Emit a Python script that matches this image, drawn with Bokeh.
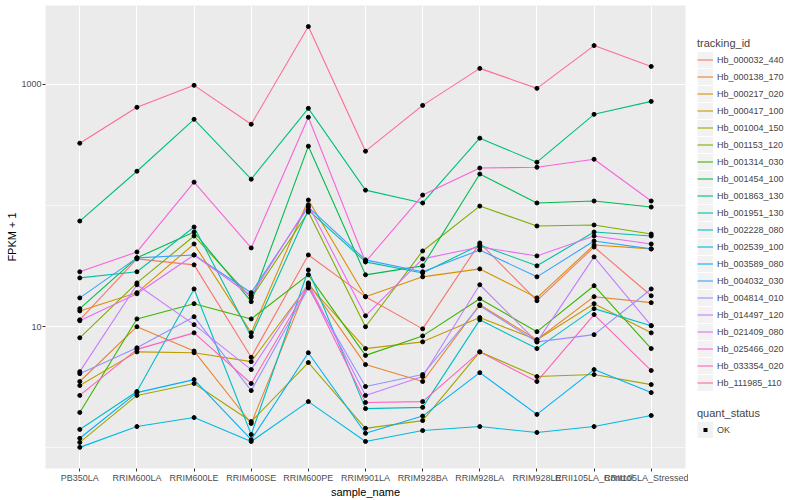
from bokeh.plotting import figure
from bokeh.layouts import row
from bokeh.models import FactorRange, Range1d, FixedTicker, BasicTickFormatter, Legend, LegendItem
from bokeh.embed import file_html
from bokeh.resources import INLINE

samples = ["PB350LA", "RRIM600LA", "RRIM600LE", "RRIM600SE", "RRIM600PE", "RRIM901LA",
           "RRIM928BA", "RRIM928LA", "RRIM928LE", "RRII105LA_Control", "RRII105LA_Stressed"]

tracking_ids = ["Hb_000032_440", "Hb_000138_170", "Hb_000217_020", "Hb_000417_100",
                "Hb_001004_150", "Hb_001153_120", "Hb_001314_030", "Hb_001454_100",
                "Hb_001863_130", "Hb_001951_130", "Hb_002228_080", "Hb_002539_100",
                "Hb_003589_080", "Hb_004032_030", "Hb_004814_010", "Hb_014497_120",
                "Hb_021409_080", "Hb_025466_020", "Hb_033354_020", "Hb_111985_110"]

quant_status = ["OK"]

# FPKM + 1 per sample (same order as samples)
hb_000032_440 = [11.4, 36.3, 32.4, 5.6, 39.1, 17.7, 9.6, 49.1, 16.4, 45.5, 18.0]
hb_000138_170 = [3.53, 10.0, 6.3, 1.59, 23.0, 4.87, 3.53, 15.2, 7.8, 17.7, 15.8]
hb_000217_020 = [13.5, 19.1, 48.2, 8.9, 111, 17.7, 25.8, 30.0, 17.3, 47.3, 43.9]
hb_000417_100 = [3.27, 6.2, 6.1, 5.15, 22.2, 6.6, 7.5, 11.9, 7.8, 15.5, 8.9]
hb_001004_150 = [1.11, 2.71, 3.40, 1.65, 5.06, 1.45, 1.68, 6.2, 3.88, 4.03, 3.33]
hb_001153_120 = [8.1, 23.0, 56.1, 17.3, 88.4, 10.0, 42.2, 99.0, 67.8, 69.1, 58.2]
hb_001314_030 = [1.96, 11.6, 15.5, 11.6, 26.8, 5.8, 8.4, 17.0, 9.1, 21.8, 6.6]
hb_001454_100 = [14.1, 37.0, 60.5, 16.1, 309, 26.8, 31.8, 182, 105, 109, 97.2]
hb_001863_130 = [74.5, 192, 515, 165, 634, 134, 105, 360, 228, 566, 724]
hb_001951_130 = [25.3, 28.4, 66.5, 8.3, 91.8, 34.3, 27.8, 47.3, 31.8, 60.5, 56.1]
hb_002228_080 = [1.42, 2.92, 20.5, 1.29, 29.4, 2.11, 2.16, 11.4, 6.6, 14.1, 10.2]
hb_002539_100 = [1.01, 1.50, 1.78, 1.13, 2.41, 1.13, 1.39, 1.50, 1.34, 1.50, 1.85]
hb_003589_080 = [1.20, 2.86, 3.66, 1.17, 6.1, 1.32, 1.83, 4.18, 1.89, 4.43, 2.86]
hb_004032_030 = [17.3, 37.0, 39.1, 19.1, 97.2, 35.6, 28.4, 43.0, 25.8, 51.0, 43.9]
hb_004814_010 = [4.10, 6.7, 12.1, 2.97, 20.9, 3.21, 4.03, 14.9, 7.5, 8.6, 20.5]
hb_014497_120 = [4.26, 22.2, 10.4, 4.43, 22.6, 2.71, 3.88, 22.2, 7.5, 37.7, 10.2]
hb_021409_080 = [11.2, 18.7, 39.1, 18.0, 101, 12.3, 36.3, 45.5, 38.4, 56.1, 48.2]
hb_025466_020 = [28.4, 41.4, 156, 44.7, 535, 34.3, 122, 204, 207, 241, 109]
hb_033354_020 = [2.71, 6.5, 8.9, 3.40, 21.8, 2.37, 2.41, 6.2, 3.53, 12.6, 4.35]
hb_111985_110 = [327, 647, 982, 469, 3000, 281, 671, 1355, 927, 2090, 1406]

series = [hb_000032_440, hb_000138_170, hb_000217_020, hb_000417_100, hb_001004_150,
          hb_001153_120, hb_001314_030, hb_001454_100, hb_001863_130, hb_001951_130,
          hb_002228_080, hb_002539_100, hb_003589_080, hb_004032_030, hb_004814_010,
          hb_014497_120, hb_021409_080, hb_025466_020, hb_033354_020, hb_111985_110]

palette = ["#F8766D", "#EA8331", "#D89000", "#C09B00", "#A3A500", "#7CAE00", "#39B600",
           "#00BB4E", "#00BF7D", "#00C1A3", "#00BFC4", "#00BAE0", "#00B0F6", "#35A2FF",
           "#9590FF", "#C77CFF", "#E76BF3", "#FA62DB", "#FF62BC", "#FF6C91"]

FONT = "Liberation Sans"

p = figure(width=688, height=500,
           x_range=FactorRange(factors=samples, range_padding=0.1, range_padding_units="absolute"),
           y_range=Range1d(0.676, 4477), y_axis_type="log",
           output_backend="svg", toolbar_location=None,
           min_border_left=45, min_border_right=3, min_border_top=5, min_border_bottom=10)

p.background_fill_color = "#EBEBEB"
p.border_fill_color = "white"
p.outline_line_color = None

p.xgrid.grid_line_color = "white"
p.xgrid.grid_line_width = 1.1
p.ygrid.ticker = FixedTicker(ticks=[10, 1000], minor_ticks=[1, 100])
p.ygrid.grid_line_color = "white"
p.ygrid.grid_line_width = 1.1
p.ygrid.minor_grid_line_color = "white"
p.ygrid.minor_grid_line_width = 0.6

p.yaxis.ticker = FixedTicker(ticks=[10, 1000])
p.yaxis.formatter = BasicTickFormatter(use_scientific=False)

for ax in (p.xaxis[0], p.yaxis[0]):
    ax.axis_line_color = None
    ax.major_tick_line_color = "#333333"
    ax.major_tick_out = 3
    ax.major_tick_in = 0
    ax.minor_tick_line_color = None
    ax.major_label_text_font = FONT
    ax.major_label_text_font_size = "9px"
    ax.major_label_text_color = "#4D4D4D"
    ax.major_label_standoff = 1
    ax.axis_label_text_font = FONT
    ax.axis_label_text_font_size = "11px"
    ax.axis_label_text_font_style = "normal"
    ax.axis_label_text_color = "black"
    ax.axis_label_standoff = 0

p.xaxis.axis_label = "sample_name"
p.yaxis.axis_label = "FPKM + 1"

for vals, col in zip(series, palette):
    p.line(samples, vals, line_color=col, line_width=1.1)

xs, ys = [], []
for vals in series:
    xs.extend(samples)
    ys.extend(vals)
p.scatter(xs, ys, size=4, color="black")

# legend panel (key renderers sit outside its visible range)
lg = figure(width=112, height=500, output_backend="svg", toolbar_location=None,
            x_range=Range1d(0, 1), y_range=Range1d(0, 1),
            x_axis_type=None, y_axis_type=None, min_border=0)
lg.outline_line_color = None
lg.grid.visible = False

off_x, off_y = [-10, -9], [-10, -10]
bg = lg.line(x=off_x, y=off_y, line_width=16, line_color="#F2F2F2")
items = []
for name, col in zip(tracking_ids, palette):
    r = lg.line(x=off_x, y=off_y, line_color=col, line_width=1.1)
    items.append(LegendItem(label=name, renderers=[bg, r]))
# small square point key: a short dash centred in the key box
dot = lg.line(x=off_x, y=off_y, line_color="black", line_width=4,
              line_dash="4 100", line_dash_offset=-6)

common = dict(padding=0, margin=0, spacing=0, glyph_height=17, glyph_width=16, label_height=17,
              label_standoff=4, label_text_font=FONT, label_text_font_size="9px",
              title_text_font=FONT, title_text_font_size="11px", title_text_font_style="normal",
              title_standoff=2, background_fill_alpha=0, border_line_color=None)

leg1 = Legend(items=items, title="tracking_id", location=(9, 77), **common)
leg2 = Legend(items=[LegendItem(label=quant_status[0], renderers=[bg, dot])], title="quant_status",
              location=(9, 30), **common)
lg.add_layout(leg1)
lg.add_layout(leg2)

open("out.html", "w").write(file_html(row(p, lg), INLINE))
